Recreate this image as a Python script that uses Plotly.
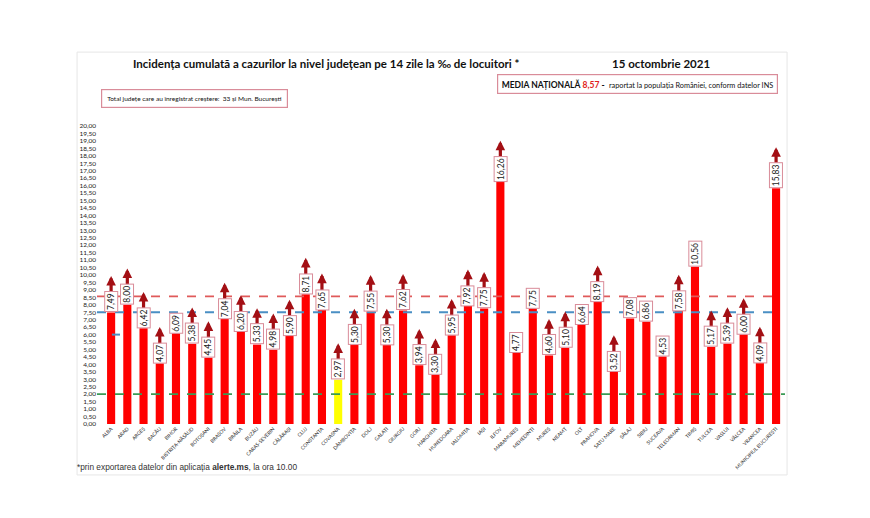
import plotly.graph_objects as go

# Datos
JUDETE = ['ALBA', 'ARAD', 'ARGEȘ', 'BACĂU', 'BIHOR', 'BISTRIȚA-NĂSĂUD', 'BOTOȘANI', 'BRAȘOV', 'BRĂILA',
          'BUZĂU', 'CARAȘ-SEVERIN', 'CĂLĂRAȘI', 'CLUJ', 'CONSTANȚA', 'COVASNA', 'DÂMBOVIȚA', 'DOLJ',
          'GALAȚI', 'GIURGIU', 'GORJ', 'HARGHITA', 'HUNEDOARA', 'IALOMIȚA', 'IAȘI', 'ILFOV', 'MARAMUREȘ',
          'MEHEDINȚI', 'MUREȘ', 'NEAMȚ', 'OLT', 'PRAHOVA', 'SATU MARE', 'SĂLAJ', 'SIBIU', 'SUCEAVA',
          'TELEORMAN', 'TIMIȘ', 'TULCEA', 'VASLUI', 'VÂLCEA', 'VRANCEA', 'MUNICIPIUL BUCUREȘTI']
INCIDENTA = [7.49, 8.00, 6.42, 4.07, 6.09, 5.38, 4.45, 7.04, 6.20, 5.33, 4.98, 5.90, 8.71, 7.65, 2.97,
             5.30, 7.55, 5.30, 7.62, 3.94, 3.30, 5.95, 7.92, 7.75, 16.26, 4.77, 7.75, 4.60, 5.10, 6.64,
             8.19, 3.52, 7.08, 6.86, 4.53, 7.58, 10.56, 5.17, 5.39, 6.00, 4.09, 15.83]
FARA_CRESTERE = ['BIHOR', 'MARAMUREȘ', 'MEHEDINȚI', 'OLT', 'SĂLAJ', 'SIBIU', 'SUCEAVA', 'TIMIȘ']
GALBEN = ['COVASNA']

MEDIA_NATIONALA = 8.57
PRAG_ALBASTRU = 7.5
PRAG_VERDE = 2.0
MARCAJ_ALBA = 6.0

ROSU = "#ff0000"
GALBEN_C = "#ffff00"
SAGEATA = "#a30f14"
CHENAR = "#d98c99"
FONT = "Lato"

culori = [GALBEN_C if j in GALBEN else ROSU for j in JUDETE]
x = list(range(len(JUDETE)))

fig = go.Figure()
fig.add_trace(go.Bar(x=x, y=INCIDENTA, marker_color=culori, marker_line_width=0, hoverinfo='y'))

# etichete valori + sageti (crestere)
for i, (j, v) in enumerate(zip(JUDETE, INCIDENTA)):
    txt = f"{v:.2f}".replace('.', ',')
    if j not in FARA_CRESTERE:
        box = 4.6 * len(txt) + 3
        fig.add_annotation(x=i, y=v, text='', showarrow=True, ax=0, ay=22, yshift=box + 15,
                           arrowhead=2, arrowsize=0.6, arrowwidth=3.2, arrowcolor=SAGEATA)
    fig.add_annotation(x=i, y=v, text=txt, textangle=-90, showarrow=False,
                       yanchor='bottom', xanchor='center', font=dict(family=FONT, size=8.5, color='#222'),
                       bgcolor='white', bordercolor=CHENAR, borderwidth=1, borderpad=1)

# linii orizontale
for val, col, x1 in [(MEDIA_NATIONALA, '#e05a5a', 0.988), (PRAG_ALBASTRU, '#4a8fc4', 0.988), (PRAG_VERDE, '#3a9a55', 1.0)]:
    fig.add_shape(type='line', xref='paper', yref='y', x0=0, x1=x1, y0=val, y1=val,
                  line=dict(color=col, width=1.8, dash='dash'))
fig.add_shape(type='line', xref='x', yref='y', x0=0.05, x1=0.55, y0=MARCAJ_ALBA, y1=MARCAJ_ALBA,
              line=dict(color='#4a8fc4', width=2))

# chenar panou
fig.add_shape(type='rect', xref='paper', yref='paper', x0=-0.029, x1=1.003, y0=-0.171, y1=1.248,
              line=dict(color='#e6e6e6', width=1), layer='below')

fig.add_annotation(xref='paper', yref='paper', x=0.333, y=1.211, xanchor='center', yanchor='middle', showarrow=False,
                   text='<b>Incidența cumulată a cazurilor la nivel județean pe 14 zile la ‰ de locuitori *</b>',
                   font=dict(family=FONT, size=11.5, color='#111'))
fig.add_annotation(xref='paper', yref='paper', x=0.820, y=1.211, xanchor='center', yanchor='middle', showarrow=False,
                   text='<b>15 octombrie 2021</b>', font=dict(family=FONT, size=11.5, color='#111'))
fig.add_annotation(xref='paper', yref='paper', x=0.786, y=1.141, xanchor='center', yanchor='middle', showarrow=False,
                   text='<b>MEDIA NAȚIONALĂ</b> <b><span style="color:#e02020">8,57</span> -</b>'
                        '  <span style="font-size:7.3px">raportat la populația României, conform datelor INS</span>',
                   font=dict(family=FONT, size=8.5, color='#111'),
                   bordercolor=CHENAR, borderwidth=1.2, borderpad=3.5, bgcolor='white')
fig.add_annotation(xref='paper', yref='paper', x=0.142, y=1.092, xanchor='center', yanchor='middle', showarrow=False,
                   text='Total județe care au înregistrat creștere:  33 și Mun. București',
                   font=dict(family=FONT, size=6.5, color='#111'),
                   bordercolor=CHENAR, borderwidth=1.2, borderpad=5, bgcolor='white')
fig.add_annotation(xref='paper', yref='paper', x=-0.032, y=-0.144, xanchor='left', yanchor='middle', showarrow=False,
                   text='*prin exportarea datelor din aplicația <b>alerte.ms</b>, la ora 10.00',
                   font=dict(family='Liberation Sans', size=8.3, color='#333'))

fig.update_layout(
    width=870, height=518,
    margin=dict(l=89, r=93, t=118, b=102),
    paper_bgcolor='white', plot_bgcolor='white',
    showlegend=False, bargap=0.5, separators=', ',
    font=dict(family=FONT, color='#222'),
    xaxis=dict(range=[-0.87, 41.55], tickmode='array', tickvals=x, ticktext=JUDETE, tickangle=-45,
               tickfont=dict(size=5, color='#333'), showgrid=False, zeroline=False, showline=False, ticks=''),
    yaxis=dict(range=[0, 20], dtick=0.5, tickformat='.2f', tickfont=dict(size=6.5, color='#222'),
               showgrid=False, zeroline=False, showline=False, ticks=''),
)

fig.write_html("out.html")
